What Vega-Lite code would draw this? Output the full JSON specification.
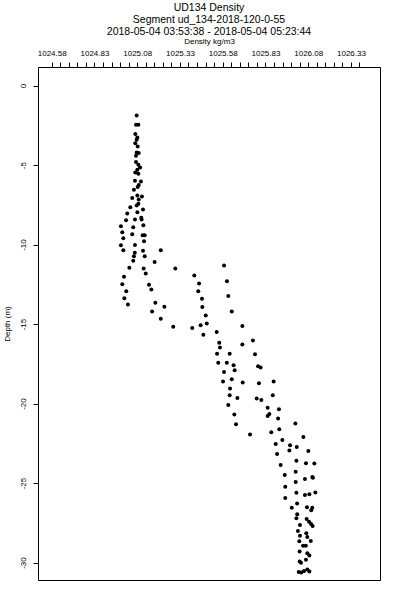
{
  "$schema": "https://vega.github.io/schema/vega-lite/v6.json",
  "width": 342,
  "height": 513,
  "autosize": {"type": "none"},
  "padding": {"left": 38, "top": 67, "right": 20, "bottom": 20},
  "background": "white",
  "config": {
    "font": "Liberation Sans",
    "view": {"stroke": "black", "strokeWidth": 1},
    "axis": {"grid": false, "domain": false, "tickColor": "black", "labelColor": "black", "titleColor": "black", "tickSize": 5, "tickWidth": 1}
  },
  "title": {
    "text": ["UD134 Density", "Segment ud_134-2018-120-0-55", "2018-05-04 03:53:38 - 2018-05-04 05:23:44"],
    "fontSize": 10.5,
    "fontWeight": "normal",
    "lineHeight": 12,
    "anchor": "middle",
    "frame": "group",
    "offset": 0,
    "color": "black"
  },
  "data": {
    "values": [
      {"density": 1025.077, "depth": -1.88},
      {"density": 1025.073, "depth": -2.47},
      {"density": 1025.087, "depth": -2.47},
      {"density": 1025.069, "depth": -3.05},
      {"density": 1025.081, "depth": -3.26},
      {"density": 1025.077, "depth": -3.41},
      {"density": 1025.069, "depth": -3.62},
      {"density": 1025.083, "depth": -3.83},
      {"density": 1025.077, "depth": -4.21},
      {"density": 1025.089, "depth": -4.24},
      {"density": 1025.073, "depth": -4.41},
      {"density": 1025.073, "depth": -4.81},
      {"density": 1025.087, "depth": -4.98},
      {"density": 1025.097, "depth": -5.15},
      {"density": 1025.081, "depth": -5.29},
      {"density": 1025.069, "depth": -5.46},
      {"density": 1025.087, "depth": -5.54},
      {"density": 1025.067, "depth": -5.98},
      {"density": 1025.102, "depth": -6.03},
      {"density": 1025.089, "depth": -6.25},
      {"density": 1025.083, "depth": -6.38},
      {"density": 1025.061, "depth": -6.55},
      {"density": 1025.081, "depth": -6.92},
      {"density": 1025.108, "depth": -6.97},
      {"density": 1025.051, "depth": -7.07},
      {"density": 1025.089, "depth": -7.17},
      {"density": 1025.087, "depth": -7.43},
      {"density": 1025.040, "depth": -7.66},
      {"density": 1025.077, "depth": -7.55},
      {"density": 1025.114, "depth": -7.80},
      {"density": 1025.081, "depth": -7.97},
      {"density": 1025.022, "depth": -8.05},
      {"density": 1025.104, "depth": -8.32},
      {"density": 1025.106, "depth": -8.43},
      {"density": 1025.067, "depth": -8.43},
      {"density": 1025.015, "depth": -8.47},
      {"density": 1025.116, "depth": -8.79},
      {"density": 1024.985, "depth": -8.85},
      {"density": 1025.057, "depth": -8.91},
      {"density": 1024.993, "depth": -9.23},
      {"density": 1025.051, "depth": -9.35},
      {"density": 1025.112, "depth": -9.42},
      {"density": 1025.124, "depth": -9.42},
      {"density": 1024.999, "depth": -9.60},
      {"density": 1025.120, "depth": -9.79},
      {"density": 1024.985, "depth": -10.04},
      {"density": 1025.067, "depth": -10.02},
      {"density": 1024.999, "depth": -10.36},
      {"density": 1025.114, "depth": -10.39},
      {"density": 1025.218, "depth": -10.36},
      {"density": 1025.066, "depth": -10.52},
      {"density": 1025.061, "depth": -10.73},
      {"density": 1025.124, "depth": -10.73},
      {"density": 1025.057, "depth": -11.02},
      {"density": 1025.182, "depth": -11.09},
      {"density": 1025.034, "depth": -11.46},
      {"density": 1025.118, "depth": -11.51},
      {"density": 1025.303, "depth": -11.51},
      {"density": 1025.130, "depth": -11.82},
      {"density": 1025.003, "depth": -12.03},
      {"density": 1025.414, "depth": -11.95},
      {"density": 1024.993, "depth": -12.49},
      {"density": 1025.442, "depth": -12.45},
      {"density": 1025.149, "depth": -12.53},
      {"density": 1025.163, "depth": -12.82},
      {"density": 1025.016, "depth": -12.93},
      {"density": 1025.437, "depth": -12.93},
      {"density": 1025.005, "depth": -13.37},
      {"density": 1025.459, "depth": -13.41},
      {"density": 1025.186, "depth": -13.66},
      {"density": 1025.026, "depth": -13.77},
      {"density": 1025.239, "depth": -13.91},
      {"density": 1025.461, "depth": -13.93},
      {"density": 1025.167, "depth": -14.21},
      {"density": 1025.218, "depth": -14.66},
      {"density": 1025.481, "depth": -14.46},
      {"density": 1025.291, "depth": -15.17},
      {"density": 1025.402, "depth": -15.25},
      {"density": 1025.451, "depth": -15.08},
      {"density": 1025.487, "depth": -14.96},
      {"density": 1025.467, "depth": -15.67},
      {"density": 1025.545, "depth": -15.50},
      {"density": 1025.588, "depth": -11.32},
      {"density": 1025.605, "depth": -12.30},
      {"density": 1025.613, "depth": -13.24},
      {"density": 1025.633, "depth": -14.21},
      {"density": 1025.695, "depth": -15.13},
      {"density": 1025.757, "depth": -16.03},
      {"density": 1025.560, "depth": -16.17},
      {"density": 1025.564, "depth": -16.48},
      {"density": 1025.695, "depth": -16.28},
      {"density": 1025.769, "depth": -16.90},
      {"density": 1025.547, "depth": -16.86},
      {"density": 1025.621, "depth": -16.86},
      {"density": 1025.554, "depth": -17.43},
      {"density": 1025.604, "depth": -17.43},
      {"density": 1025.644, "depth": -17.59},
      {"density": 1025.650, "depth": -17.91},
      {"density": 1025.588, "depth": -18.02},
      {"density": 1025.787, "depth": -17.66},
      {"density": 1025.802, "depth": -17.74},
      {"density": 1025.633, "depth": -18.47},
      {"density": 1025.582, "depth": -18.62},
      {"density": 1025.697, "depth": -18.68},
      {"density": 1025.792, "depth": -18.72},
      {"density": 1025.878, "depth": -18.62},
      {"density": 1025.623, "depth": -19.06},
      {"density": 1025.621, "depth": -19.48},
      {"density": 1025.666, "depth": -19.65},
      {"density": 1025.779, "depth": -19.69},
      {"density": 1025.806, "depth": -19.77},
      {"density": 1025.873, "depth": -19.48},
      {"density": 1025.613, "depth": -20.09},
      {"density": 1025.843, "depth": -20.27},
      {"density": 1025.909, "depth": -20.36},
      {"density": 1025.853, "depth": -20.65},
      {"density": 1025.843, "depth": -20.78},
      {"density": 1025.648, "depth": -20.69},
      {"density": 1025.904, "depth": -20.94},
      {"density": 1025.658, "depth": -21.30},
      {"density": 1026.005, "depth": -21.25},
      {"density": 1025.911, "depth": -21.61},
      {"density": 1025.864, "depth": -21.80},
      {"density": 1025.740, "depth": -21.94},
      {"density": 1025.929, "depth": -22.30},
      {"density": 1025.890, "depth": -22.55},
      {"density": 1025.974, "depth": -22.62},
      {"density": 1025.970, "depth": -22.95},
      {"density": 1026.013, "depth": -22.74},
      {"density": 1025.898, "depth": -23.18},
      {"density": 1026.052, "depth": -22.10},
      {"density": 1026.081, "depth": -22.99},
      {"density": 1026.011, "depth": -23.60},
      {"density": 1026.067, "depth": -23.75},
      {"density": 1026.116, "depth": -23.77},
      {"density": 1025.919, "depth": -23.87},
      {"density": 1026.007, "depth": -24.29},
      {"density": 1025.943, "depth": -24.50},
      {"density": 1026.061, "depth": -24.75},
      {"density": 1026.104, "depth": -24.62},
      {"density": 1026.108, "depth": -24.67},
      {"density": 1026.007, "depth": -24.94},
      {"density": 1025.946, "depth": -25.23},
      {"density": 1026.011, "depth": -25.61},
      {"density": 1026.061, "depth": -25.76},
      {"density": 1026.087, "depth": -25.71},
      {"density": 1026.122, "depth": -25.59},
      {"density": 1025.946, "depth": -25.94},
      {"density": 1026.015, "depth": -26.28},
      {"density": 1025.984, "depth": -26.55},
      {"density": 1026.073, "depth": -26.53},
      {"density": 1026.104, "depth": -26.55},
      {"density": 1026.098, "depth": -26.72},
      {"density": 1026.016, "depth": -26.97},
      {"density": 1026.011, "depth": -27.22},
      {"density": 1026.071, "depth": -27.26},
      {"density": 1026.085, "depth": -27.43},
      {"density": 1026.097, "depth": -27.57},
      {"density": 1026.106, "depth": -27.70},
      {"density": 1026.032, "depth": -27.64},
      {"density": 1026.020, "depth": -28.01},
      {"density": 1026.069, "depth": -28.16},
      {"density": 1026.032, "depth": -28.31},
      {"density": 1026.075, "depth": -28.39},
      {"density": 1026.095, "depth": -28.64},
      {"density": 1026.028, "depth": -28.66},
      {"density": 1026.050, "depth": -28.94},
      {"density": 1026.066, "depth": -28.94},
      {"density": 1026.030, "depth": -29.31},
      {"density": 1026.075, "depth": -29.41},
      {"density": 1026.087, "depth": -29.56},
      {"density": 1026.067, "depth": -29.82},
      {"density": 1026.030, "depth": -29.94},
      {"density": 1026.038, "depth": -30.02},
      {"density": 1026.025, "depth": -30.59},
      {"density": 1026.040, "depth": -30.63},
      {"density": 1026.056, "depth": -30.53},
      {"density": 1026.075, "depth": -30.44},
      {"density": 1026.087, "depth": -30.57}
    ]
  },
  "mark": {"type": "circle", "size": 16, "color": "black", "opacity": 1},
  "encoding": {
    "x": {
      "field": "density",
      "type": "quantitative",
      "scale": {"domain": [1024.5, 1026.5], "nice": false, "zero": false},
      "axis": {
        "orient": "top",
        "title": "Density kg/m3",
        "titleFontSize": 8,
        "titleFontWeight": "normal",
        "titlePadding": 4,
        "labelFontSize": 8,
        "labelPadding": 5,
        "labelOverlap": false,
        "labelFlush": false,
        "values": [1024.58,1024.63,1024.68,1024.73,1024.78,1024.83,1024.88,1024.93,1024.98,1025.03,1025.08,1025.13,1025.18,1025.23,1025.28,1025.33,1025.38,1025.43,1025.48,1025.53,1025.58,1025.63,1025.68,1025.73,1025.78,1025.83,1025.88,1025.93,1025.98,1026.03,1026.08,1026.13,1026.18,1026.23,1026.28,1026.33,1026.38],
        "labelExpr": "round((datum.value - 1024.58) * 20) % 5 == 0 ? format(datum.value, '.2f') : ''"
      }
    },
    "y": {
      "field": "depth",
      "type": "quantitative",
      "scale": {"domain": [-31.1, 1.17], "nice": false, "zero": false},
      "axis": {
        "orient": "left",
        "title": "Depth (m)",
        "titleFontSize": 8,
        "titleFontWeight": "normal",
        "titlePadding": 8,
        "labelFontSize": 8,
        "labelAngle": -90,
        "labelAlign": "center",
        "labelBaseline": "bottom",
        "labelPadding": 6,
        "labelOverlap": false,
        "labelFlush": false,
        "values": [0, -5, -10, -15, -20, -25, -30],
        "labelExpr": "'' + datum.value"
      }
    }
  }
}
